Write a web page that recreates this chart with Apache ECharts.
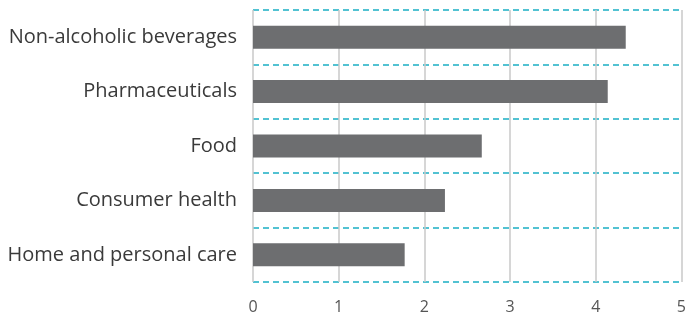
<!DOCTYPE html>
<html><head><meta charset="utf-8">
<script src="https://cdn.jsdelivr.net/npm/echarts@6/dist/echarts.min.js"></script>
<style>html,body{margin:0;padding:0;background:#fff}#c{width:689px;height:317px}</style>
</head><body><div id="c"></div>
<script>
const categories = ["Home and personal care","Consumer health","Food","Pharmaceuticals","Non-alcoholic beverages"];
const values = [1.77, 2.24, 2.67, 4.14, 4.35];
const xTicks = [0,1,2,3,4,5];
const chart = echarts.init(document.getElementById('c'));
chart.setOption({
  animation:false,
  grid:{left:253,right:5,top:10,bottom:35,containLabel:false},
  xAxis:{type:'value',min:xTicks[0],max:xTicks[xTicks.length-1],interval:1,
    axisLine:{show:false},axisTick:{show:false},
    axisLabel:{color:'#555',fontFamily:'Open Sans',fontSize:16,margin:17},
    splitLine:{show:true,lineStyle:{color:'#c8c8c8',width:1.5}}},
  yAxis:{type:'category',data:categories,
    axisLine:{show:false},axisTick:{show:false},
    axisLabel:{color:'#3a3a3a',fontFamily:'Open Sans',fontSize:20,margin:16},
    splitLine:{show:true,lineStyle:{color:'#1aafc4',width:1.5,type:[6,4]}}},
  series:[{type:'bar',data:values,barWidth:23,itemStyle:{color:'#6d6e70'}}]
});
</script></body></html>
